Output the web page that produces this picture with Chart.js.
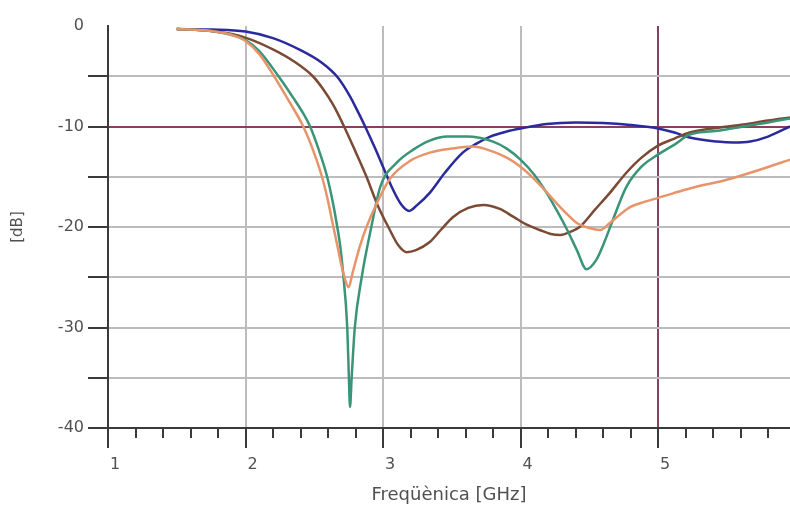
<!DOCTYPE html>
<html><head><meta charset="utf-8">
<script src="https://cdn.jsdelivr.net/npm/chart.js@4/dist/chart.umd.min.js"></script>
<style>html,body{margin:0;padding:0;background:#fff}</style>
</head><body>
<canvas id="c" width="790" height="514"></canvas>
<script>
const xTickLabels = ['1','2','3','4','5'];
const yTickLabels = ['0','-10','-20','-30','-40'];

const blueFreq = [1.5,1.75,2.0,2.2,2.4,2.56,2.67,2.76,2.82,2.87,2.94,3.0,3.07,3.13,3.19,3.25,3.34,3.45,3.58,3.68,3.78,3.9,4.0,4.19,4.4,4.6,4.8,5.0,5.12,5.23,5.43,5.55,5.67,5.8,5.96];
const blueDb   = [-0.3,-0.35,-0.55,-1.2,-2.4,-3.7,-5.1,-7.0,-8.6,-10.0,-12.1,-14.0,-16.2,-17.7,-18.4,-17.8,-16.6,-14.6,-12.6,-11.7,-11.0,-10.5,-10.2,-9.75,-9.6,-9.65,-9.85,-10.2,-10.6,-11.1,-11.5,-11.6,-11.5,-11.0,-10.0];

const greenFreq = [1.5,1.75,1.9,2.0,2.1,2.24,2.35,2.42,2.47,2.53,2.59,2.63,2.665,2.69,2.71,2.74,2.752,2.76,2.772,2.795,2.845,2.915,2.98,3.1,3.22,3.34,3.47,3.61,3.8,3.9,4.0,4.1,4.19,4.27,4.34,4.41,4.48,4.55,4.61,4.68,4.77,4.88,5.0,5.12,5.23,5.45,5.62,5.8,5.96];
const greenDb   = [-0.3,-0.5,-0.9,-1.4,-2.5,-5.0,-7.2,-8.7,-10.0,-12.2,-14.8,-17.2,-19.8,-22.0,-24.6,-30.0,-35.0,-37.9,-35.0,-30.0,-25.0,-20.0,-16.0,-13.6,-12.3,-11.4,-11.0,-11.0,-11.5,-12.2,-13.3,-14.8,-16.6,-18.5,-20.3,-22.3,-24.2,-23.3,-21.5,-19.0,-16.0,-14.0,-12.8,-11.8,-10.8,-10.4,-10.0,-9.6,-9.2];

const orangeFreq = [1.5,1.75,1.9,2.0,2.1,2.19,2.3,2.42,2.49,2.556,2.6,2.63,2.67,2.71,2.75,2.78,2.83,2.88,2.96,3.05,3.2,3.34,3.5,3.65,3.8,3.9,4.0,4.12,4.24,4.33,4.41,4.5,4.58,4.65,4.72,4.8,4.9,5.0,5.12,5.25,5.5,5.74,5.96];
const orangeDb   = [-0.3,-0.5,-0.9,-1.5,-2.8,-4.6,-7.1,-10.0,-12.3,-15.0,-17.4,-19.4,-22.0,-24.5,-26.0,-24.5,-22.0,-20.0,-17.5,-15.2,-13.4,-12.6,-12.2,-12.0,-12.5,-13.1,-14.0,-15.5,-17.3,-18.6,-19.6,-20.1,-20.3,-19.6,-18.8,-18.0,-17.5,-17.1,-16.6,-16.1,-15.3,-14.3,-13.3];

const brownFreq = [1.5,1.75,1.9,2.03,2.21,2.35,2.49,2.56,2.64,2.71,2.8,2.88,2.96,3.05,3.11,3.17,3.24,3.34,3.42,3.51,3.62,3.73,3.85,3.95,4.05,4.14,4.22,4.29,4.36,4.43,4.54,4.65,4.77,4.88,5.0,5.12,5.23,5.45,5.62,5.8,5.96];
const brownDb   = [-0.3,-0.5,-0.8,-1.3,-2.4,-3.5,-5.0,-6.2,-7.9,-9.8,-12.5,-15.0,-17.8,-20.3,-21.8,-22.5,-22.3,-21.5,-20.3,-19.0,-18.1,-17.8,-18.2,-19.0,-19.8,-20.3,-20.7,-20.8,-20.5,-20.0,-18.3,-16.6,-14.6,-13.1,-11.9,-11.2,-10.6,-10.1,-9.8,-9.4,-9.1];

const pts = (fs, ds) => fs.map((f, i) => ({x: f, y: ds[i]}));

const GRID = '#bcbcbc';
const MARK = '#8a3f60';
const AXIS = '#3a3a3a';
const TEXT = '#505050';
const FONT = 'DejaVu Sans';
const NONE = 'rgba(0,0,0,0)';

const tickPlugin = {
  id: 'axisTicks',
  afterDraw(chart) {
    const {ctx, scales: {x, y}, chartArea: a} = chart;
    ctx.save();
    ctx.strokeStyle = AXIS;
    ctx.lineWidth = 2;
    for (let i = 0; ; i++) {
      const v = 1 + i * 0.2;
      if (v > x.max + 1e-9) break;
      const px = Math.round(x.getPixelForValue(v));
      ctx.beginPath();
      ctx.moveTo(px, a.bottom);
      ctx.lineTo(px, a.bottom + (i % 5 === 0 ? 20 : 10));
      ctx.stroke();
    }
    for (let v = y.min; v < y.max; v += 5) {
      const py = Math.round(y.getPixelForValue(v));
      ctx.beginPath();
      ctx.moveTo(a.left - 20, py);
      ctx.lineTo(a.left, py);
      ctx.stroke();
    }
    ctx.restore();
  }
};

const ds = (label, data, color) => ({
  label, data, borderColor: color, backgroundColor: color,
  borderWidth: 2.5, pointRadius: 0, cubicInterpolationMode: 'monotone', fill: false
});

new Chart(document.getElementById('c'), {
  type: 'line',
  data: {
    datasets: [
      ds('A', pts(orangeFreq, orangeDb), '#e8946a'),
      ds('B', pts(greenFreq, greenDb), '#3a9478'),
      ds('C', pts(brownFreq, brownDb), '#7b4a35'),
      ds('D', pts(blueFreq, blueDb), '#2a2a9c')
    ]
  },
  options: {
    responsive: false,
    animation: false,
    devicePixelRatio: 1,
    layout: {padding: {top: 26, right: 0, bottom: 0, left: 0}},
    plugins: {legend: {display: false}, tooltip: {enabled: false}},
    scales: {
      x: {
        type: 'linear', min: 1, max: 5.96,
        afterFit: s => { s.height = 86; },
        ticks: {
          stepSize: 1, includeBounds: false, padding: 7, labelOffset: 7,
          color: TEXT, font: {family: FONT, size: 16},
          callback: v => Number.isInteger(v) ? xTickLabels[v - 1] : ''
        },
        grid: {
          drawTicks: true, tickLength: 20, tickColor: NONE, lineWidth: 2,
          color: c => c.tick.value === 1 ? NONE : (c.tick.value === 5 ? MARK : GRID)
        },
        border: {display: true, color: AXIS, width: 2},
        title: {display: true, text: 'Freqüènica [GHz]', color: TEXT, font: {family: FONT, size: 18}, padding: {top: 8, bottom: 8}}
      },
      y: {
        type: 'linear', min: -40, max: 0,
        afterFit: s => { s.width = 108; },
        ticks: {
          stepSize: 5, padding: 4,
          color: TEXT, font: {family: FONT, size: 16},
          callback: v => (v % 10 === 0) ? yTickLabels[Math.round(-v / 10)] : ''
        },
        grid: {
          drawTicks: true, tickLength: 20, tickColor: NONE, lineWidth: 2,
          color: c => (c.tick.value === 0 || c.tick.value === -40) ? NONE : (c.tick.value === -10 ? MARK : GRID)
        },
        border: {display: true, color: AXIS, width: 2},
        title: {display: true, text: '[dB]', color: TEXT, font: {family: FONT, size: 15}, padding: {top: 9, bottom: 9}}
      }
    }
  },
  plugins: [tickPlugin]
});
</script>
</body></html>
